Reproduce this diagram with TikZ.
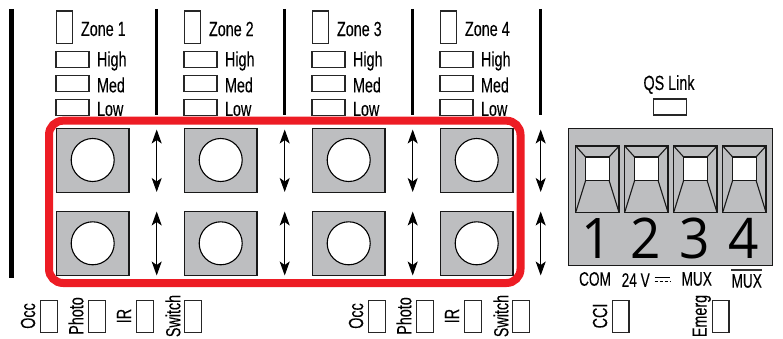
\documentclass[tikz,border=0pt]{standalone}
\usepackage{fontspec}
\setmainfont[FakeStretch=0.7,FakeBold=0.1]{Liberation Sans}
\newfontfamily\digitfont[FakeStretch=0.95]{Open Sans}
\usetikzlibrary{arrows.meta}
\definecolor{panelgray}{RGB}{189,190,192}
\definecolor{ringred}{RGB}{237,28,36}
\tikzset{
  x=1pt,y=-1pt,
  box/.style={draw=black!85,line width=1.1pt,fill=white,inner sep=0,outer sep=0},
  vbox/.style={box,minimum width=16.5pt,minimum height=32.5pt},
  hbox/.style={box,minimum width=33pt,minimum height=16pt},
  lbl/.style={inner sep=0,outer sep=0,font=\fontsize{20.5}{22}\selectfont,text=black},
  smlbl/.style={inner sep=0,outer sep=0,font=\fontsize{19.5}{22}\selectfont,text=black},
  rotlbl/.style={lbl,rotate=90},
  bar/.style={line width=3pt,black},
  square/.style={draw=black!90,line width=1.1pt,fill=panelgray,minimum width=72.5pt,inner sep=0,outer sep=0},
  hole/.style={circle,draw=black,line width=1.1pt,fill=white,minimum size=43pt,inner sep=0,outer sep=0},
  twoway/.style={line width=1pt,{Stealth[length=14pt,width=10pt,inset=3.5pt]}-{Stealth[length=14pt,width=10pt,inset=3.5pt]}},
  swline/.style={line width=1.1pt,draw=black!90},
  digit/.style={inner sep=0,outer sep=0,anchor=base,font=\digitfont\fontsize{56}{58}\selectfont,text=black}
}
\begin{document}
\begin{tikzpicture}
\useasboundingbox (0,0) rectangle (783,339);
% bars
\coordinate (lt) at (11.5,9); \coordinate (lb) at (11.5,278);
\draw[line width=5.2pt] (lt) -- (lb);
\foreach \i/\x in {1/156.7,2/284.7,3/412.7,4/540.7}{
  \coordinate (dt\i) at (\x,9); \coordinate (db\i) at (\x,115);
  \draw[bar] (dt\i) -- (db\i);
  \coordinate (at\i) at (\x,129.5); \coordinate (am\i) at (\x,192);
  \draw[twoway] (at\i) -- (am\i);
  \coordinate (bt\i) at (\x,211.5); \coordinate (bm\i) at (\x,275.5);
  \draw[twoway] (bt\i) -- (bm\i);
}
% zones
\foreach \i/\x in {1/56,2/184,3/312,4/440}{
  \node[vbox] (zone\i) at (\x+8.4,27.3) {};
  \node[lbl,anchor=west] (zt\i) at (\x+25,29) {Zone \i};
  \node[hbox] (high\i) at (\x+16.5,59.2) {};
  \node[hbox] (med\i) at (\x+16.5,83.2) {};
  \node[hbox] (low\i) at (\x+16.5,107.2) {};
  \node[lbl,anchor=west] (ht\i) at (\x+41,61) {High};
  \node[lbl,anchor=west] (mt\i) at (\x+41,85) {Med};
  \node[lbl,anchor=west] (lt\i) at (\x+41,109) {Low};
  \node[square,minimum height=64.5pt] (sa\i) at (\x+36.7,160.6) {};
  \node[hole] (ha\i) at (\x+36.7,160) {};
  \node[square,minimum height=64pt] (sb\i) at (\x+36.7,243.3) {};
  \node[hole] (hb\i) at (\x+36.7,243.3) {};
}
% red ring
\draw[ringred,line width=8pt,rounded corners=14pt] (49,120.7) rectangle (520.5,283);
% bottom
\foreach \k/\dx in {a/0,b/328}{
  \foreach \n/\t/\x/\tx in {1/Occ/40.5/28,2/Photo/88.5/76,3/IR/136.5/124,4/Switch/184.5/173}{
    \node[vbox] (bb\k\n) at (\x+\dx+8.3,316.6) {};
    \node[rotlbl] (bl\k\n) at (\tx+\dx,316) {\t};
  }
}
\node[vbox] (cci) at (620.7,316.6) {};
\node[rotlbl] (ccit) at (600,316) {CCI};
\node[vbox] (emerg) at (720.7,316.6) {};
\node[rotlbl] (emergt) at (701.7,316) {Emerg};
% QS
\node[lbl] (qst) at (669,84.5) {QS Link};
\node[hbox] (qs) at (670,107) {};
% panel
\node[draw=black!90,line width=1.1pt,fill=panelgray,minimum width=204pt,minimum height=137pt,inner sep=0,outer sep=0] (panel) at (670.7,197.2) {};
\foreach \i/\x/\d in {1/575.7/597,2/624.7/646,3/673.7/695,4/722.7/744}{
  \node[draw=black!90,line width=1.4pt,minimum width=43.3pt,minimum height=66.3pt,inner sep=0,outer sep=0] (sw\i) at (\x+21.65,179.2) {};
  \node[fill=white,draw=black!90,line width=1.1pt,minimum width=23.4pt,minimum height=23.4pt,inner sep=0,outer sep=0] (win\i) at (\x+21.65,168.7) {};
  \draw[swline] (sw\i.north west) -- (win\i.north west);
  \draw[swline] (sw\i.north east) -- (win\i.north east);
  \draw[swline] (sw\i.south west) -- (win\i.south west);
  \draw[swline] (sw\i.south east) -- (win\i.south east);
  \node[digit] (dg\i) at (\d,258) {\i};
}
% terminal labels
\node[smlbl] (com) at (595,279) {COM};
\node[smlbl,anchor=west] (v24) at (621.7,280) {24 V};
\coordinate (dca) at (654.5,277.3); \coordinate (dcb) at (670,277.3);
\draw[line width=1pt] (dca) -- (dcb);
\coordinate (dcc) at (654.5,281.3); \coordinate (dcd) at (670,281.3);
\draw[line width=1pt,dash pattern=on 3.6pt off 1.4pt] (dcc) -- (dcd);
\node[smlbl] (mux) at (696.7,279) {MUX};
\node[smlbl] (nmux) at (746.7,281) {MUX};
\coordinate (ova) at (731,270); \coordinate (ovb) at (762,270);
\draw[line width=1.1pt,black!80] (ova) -- (ovb);
\end{tikzpicture}
\end{document}
